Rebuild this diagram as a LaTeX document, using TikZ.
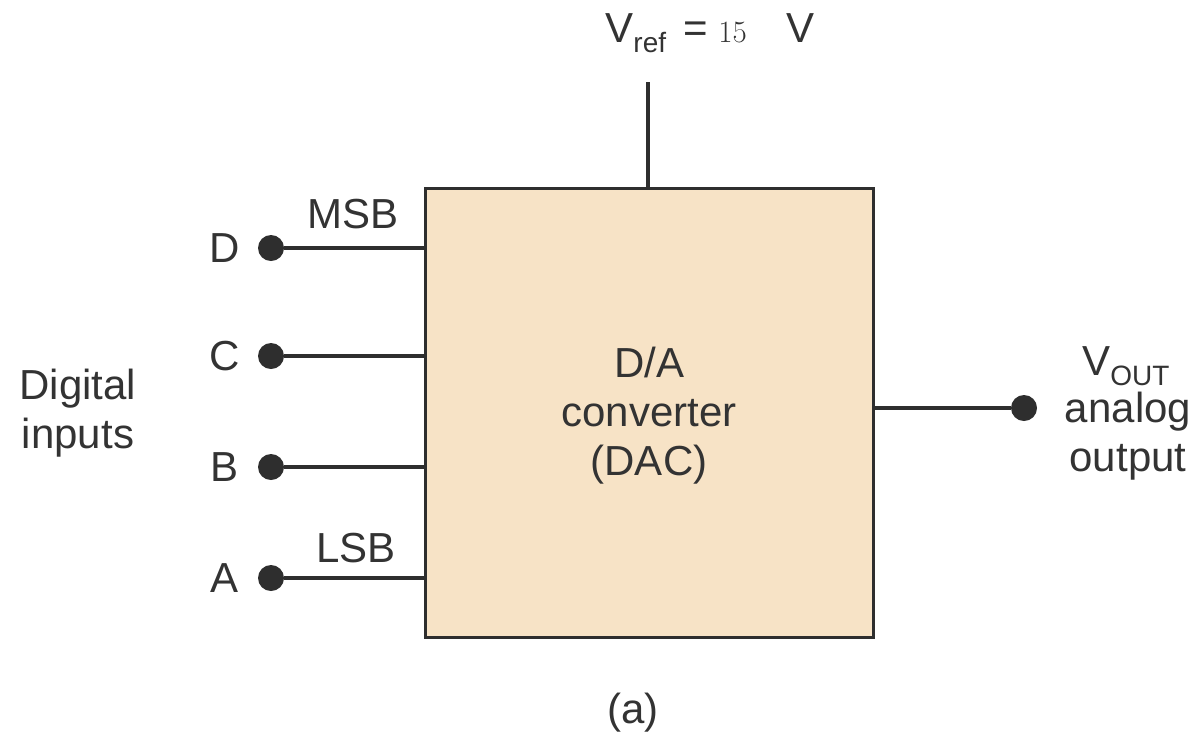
\documentclass[tikz,border=0pt]{standalone}
\usepackage{fontspec}
\setsansfont{Liberation Sans}
\usepackage{tikz}
\usetikzlibrary{positioning,calc}
\definecolor{Ink}{HTML}{333333}
\definecolor{Wire}{HTML}{2E2E2E}
\definecolor{Tan}{HTML}{F7E3C6}
\newcommand{\lowtext}[1]{\raisebox{-5pt}{\fontsize{14}{14}\selectfont #1}}
\tikzset{
  label/.style={text=Ink,font=\sffamily\fontsize{21}{24.5}\selectfont,inner sep=0pt,align=center},
  dacbox/.style={draw=Wire,line width=1.5pt,fill=Tan,minimum width=224pt,minimum height=224.5pt,inner sep=0pt},
  pin/.style={circle,fill=Wire,inner sep=0pt,minimum size=13pt},
  wire/.style={draw=Wire,line width=2pt}
}
\begin{document}
\begin{tikzpicture}[x=0.5pt,y=-0.5pt]
  \useasboundingbox (0,0) rectangle (1202,736);

  % converter block
  \node[dacbox] (dac) at (649,412.5) {};
  \node[label,anchor=base] (dactxt) at (649,475) {D/A\\converter\\(DAC)};

  % reference voltage
  \coordinate (vtop) at (648,82);
  \draw[wire] (vtop) -- (vtop |- dac.north);
  \node[label,anchor=base west] (vref) at (605,42) {V\lowtext{ref}};
  \node[label,anchor=base west] (veq) at (683,42) {=};
  \node[label,anchor=base west,font=\rmfamily\fontsize{15.5}{15.5}\selectfont] (vnum) at (718,42) {15};
  \node[label,anchor=base west] (vunit) at (786,42) {V};

  % digital inputs
  \foreach \name/\y in {D/248,C/356,B/467,A/578}{
    \node[pin] (p\name) at (271,\y) {};
    \node[label] (l\name) at (225,\y) {\name};
    \draw[wire] (p\name) -- (p\name -| dac.west);
  }
  \node[label,anchor=base] (msb) at (353,228) {MSB};
  \node[label,anchor=base] (lsb) at (356,562) {LSB};
  \node[label,anchor=base] (din) at (78,448) {Digital\\inputs};

  % analog output
  \node[pin] (pout) at (1024,408) {};
  \draw[wire] (pout -| dac.east) -- (pout);
  \node[label,anchor=base west] (vout) at (1082,375) {V\lowtext{OUT}};
  \node[label,anchor=base] (aout) at (1128,471) {analog\\output};

  \node[label] (cap) at (633,713) {(a)};
\end{tikzpicture}
\end{document}
